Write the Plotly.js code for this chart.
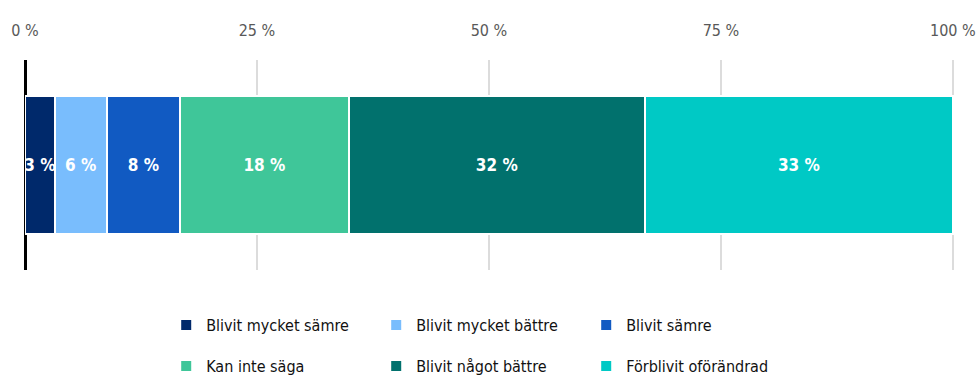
<!DOCTYPE html>
<html><head><meta charset="utf-8">
<script src="https://cdn.plot.ly/plotly-3.0.1.min.js"></script>
<style>body{margin:0;background:#fff}#chart{width:977px;height:376px}</style>
</head><body><div id="chart"></div>
<script>
const seriesNames = ["Blivit mycket sämre","Blivit mycket bättre","Blivit sämre","Kan inte säga","Blivit något bättre","Förblivit oförändrad"];
const seriesValues = [3.2, 5.6, 7.9, 18.2, 31.9, 33.2];
const seriesLabels = ["3 %","6 %","8 %","18 %","32 %","33 %"];
const seriesColors = ["#00296b","#79bdfd","#115ac2","#3fc699","#01716d","#00c9c5"];
const category = [""];
const tickVals = [0,25,50,75,100];
const tickText = ["0 %","25 %","50 %","75 %","100 %"];

// pick a condensed font that is actually available
function pickFont(){
  const span = document.createElement('span');
  span.textContent = 'Blivit mycket sämre 100 %';
  span.style.cssText = 'position:absolute;visibility:hidden;font-size:40px;white-space:nowrap';
  document.body.appendChild(span);
  const w = (fam, st) => { span.style.fontFamily = fam; span.style.fontStretch = st; return span.offsetWidth; };
  const mono = w('monospace','normal');
  const cands = [
    {f:'Liberation Sans Narrow', s:'normal'},
    {f:'DejaVu Sans Condensed', s:'normal'},
    {f:'Noto Sans', s:'condensed'},
    {f:'Open Sans', s:'condensed'},
    {f:'Roboto', s:'condensed'},
    {f:'DejaVu Sans', s:'condensed'}
  ];
  let res = {f:'Liberation Sans', s:'normal'};
  for (const c of cands){
    const a = w('"'+c.f+'", monospace', 'normal');
    if (a === mono) continue; // not installed
    if (c.s === 'normal'){ res = {f:c.f, s:'normal'}; break; }
    const b = w('"'+c.f+'", monospace', c.s);
    if (b < a*0.93){ res = {f:c.f, s:c.s}; break; }
  }
  document.body.removeChild(span);
  return res;
}
const pf = pickFont();
const FONT = pf.f;
const STR = pf.s;
const SZ = 16;

const traces = seriesNames.map((n,i)=>({
  type:'bar', orientation:'h', name:n,
  x:[seriesValues[i]], y:category,
  text:[seriesLabels[i]], textposition:'inside', insidetextanchor:'middle',
  constraintext:'none', textangle:0,
  textfont:{family:FONT, stretch:STR, size:17, color:'#ffffff', weight:'bold'},
  marker:{color:seriesColors[i], line:{color:'#ffffff', width:2}},
  hoverinfo:'none',
  legend: i<3 ? 'legend' : 'legend2'
}));
const legBase = {orientation:'h', xanchor:'left', yanchor:'middle', yref:'container',
  font:{family:FONT, stretch:STR, size:SZ, color:'#111'},
  entrywidth:165, entrywidthmode:'pixels', itemwidth:30, bgcolor:'rgba(0,0,0,0)', traceorder:'normal'};
const layout = {
  width:977, height:376, barmode:'stack', bargap:0.34,
  margin:{l:25,r:23,t:60,b:106, autoexpand:false},
  paper_bgcolor:'#fff', plot_bgcolor:'#fff',
  font:{family:FONT, stretch:STR},
  showlegend:true,
  xaxis:{side:'top', range:[0,100.12], tickvals:tickVals, ticktext:tickText,
    showgrid:true, gridcolor:'#dcdcdc', gridwidth:2,
    zeroline:true, zerolinecolor:'#000', zerolinewidth:3,
    ticks:'', ticklabelstandoff:20, ticklabeloverflow:'allow',
    tickfont:{family:FONT, stretch:STR, size:SZ, color:'#595959'}, fixedrange:true},
  yaxis:{showticklabels:false, showgrid:false, zeroline:false, fixedrange:true},
  legend:Object.assign({}, legBase, {x:0.152, y:1-325/376}),
  legend2:Object.assign({}, legBase, {x:0.152, y:1-366/376})
};
Plotly.newPlot('chart', traces, layout, {displayModeBar:false, staticPlot:true});
</script></body></html>
